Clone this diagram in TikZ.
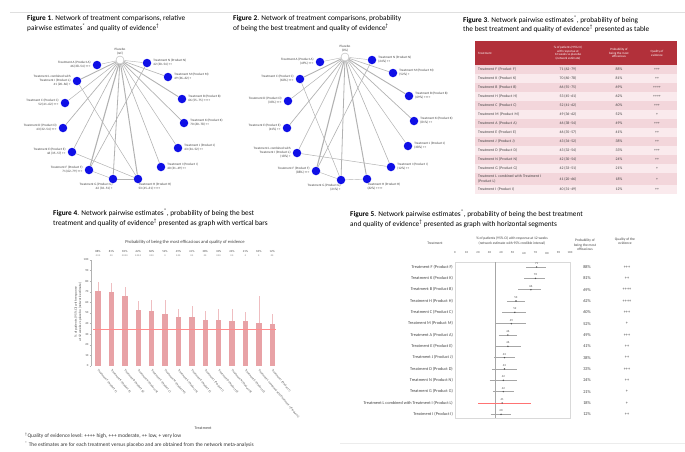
\documentclass[tikz,border=0pt]{standalone}
\usepackage{fontspec}
\setmainfont{Carlito}
\usetikzlibrary{positioning}
\definecolor{netblue}{RGB}{15, 15, 230}
\definecolor{edgegray}{RGB}{178, 178, 178}
\definecolor{headred}{RGB}{178, 48, 58}
\definecolor{rowpink}{RGB}{243, 214, 219}
\definecolor{rowlight}{RGB}{250, 234, 237}
\definecolor{barpink}{RGB}{232, 162, 166}
% rank/name/estimate/lower/upper/probability/quality
\newcommand{\rankrows}{1/Treatment F (Product F)/71/62/79/88/+++,
  2/Treatment K (Product K)/70/60/78/81/++,
  3/Treatment B (Product B)/66/55/75/69/++++,
  4/Treatment H (Product H)/53/45/61/62/++++,
  5/Treatment C (Product C)/52/41/62/60/+++,
  6/Treatment M (Product M)/49/36/62/52/+,
  7/Treatment A (Product A)/46/38/54/49/+++,
  8/Treatment E (Product E)/46/35/57/41/++,
  9/Treatment J (Product J)/43/34/52/38/++,
  10/Treatment D (Product D)/43/32/54/33/+++,
  11/Treatment N (Product N)/42/30/54/24/++,
  12/Treatment G (Product G)/42/33/51/21/+,
  13/Treatment L combined with Treatment I (Product L)/41/20/66/18/+,
  14/Treatment I (Product I)/40/31/49/12/++}

\begin{document}
\begin{tikzpicture}[x=1pt, y=-1pt,
  ttl/.style={anchor=north west, align=left, inner sep=0pt, font=\fontsize{7.3}{9.6}\selectfont},
  trt/.style={circle, fill=netblue, minimum size=8.5pt, inner sep=0pt},
  plc/.style={circle, draw=gray!60, fill=white, minimum size=8pt, inner sep=0pt},
  lab/.style={inner sep=0.3pt, text=black!75, font=\fontsize{3.3}{4}\selectfont},
  ll/.style={lab, align=right, left=1.5pt of #1},
  lr/.style={lab, align=left, right=1.5pt of #1},
  edge/.style={draw=edgegray},
  cell/.style={inner sep=0pt, text=black!75, font=\fontsize{3.8}{4.4}\selectfont},
  hcell/.style={inner sep=0pt, text=white, align=center, font=\fontsize{3.2}{3.8}\selectfont},
  tiny/.style={inner sep=0pt, text=black!70, font=\fontsize{3}{3.6}\selectfont},
  rcell/.style={inner sep=0pt, text=black!75, font=\fontsize{4.3}{5}\selectfont},
  rot/.style={inner sep=0pt, anchor=west, rotate=-50, text=black!70, font=\fontsize{3}{3.5}\selectfont}
]
\useasboundingbox (0,0) rectangle (685,451);
\draw[gray!25, line width=0.4pt] (10,12) -- (685,12);
\draw[gray!15, line width=0.4pt] (340,443) -- (685,443);

% titles
\node[ttl] (t1) at (27,15.5) {\textbf{Figure 1}. Network of treatment comparisons, relative\\pairwise estimates\textsuperscript{*} and  quality of evidence\textsuperscript{\dag}};
\node[ttl] (t2) at (233,15.5) {\textbf{Figure 2}. Network of treatment comparisons, probability\\of being the best treatment and quality of evidence\textsuperscript{\dag}};
\node[ttl] (t3) at (463,15.5) {\textbf{Figure 3}. Network pairwise estimates\textsuperscript{*}, probability of being\\the best treatment and quality of evidence\textsuperscript{\dag}  presented as table};
\node[ttl] (t4) at (53,209) {\textbf{Figure 4}. Network pairwise estimates\textsuperscript{*}, probability of being the best\\treatment and quality of evidence\textsuperscript{\dag}  presented as graph with vertical bars};
\node[ttl] (t5) at (350,210) {\textbf{Figure 5}. Network pairwise estimates\textsuperscript{*}, probability of being the best treatment\\and quality of evidence\textsuperscript{\dag}  presented as graph with horizontal segments};

% Figure 1: network with pairwise estimates
\node[plc] (p1) at (120,60) {};
\node[lab, align=center, above=0.5pt of p1] (p1l) {Placebo\\(ref.)};
\foreach \n/\x/\y in {1/97/65, 2/77/81, 3/65/103, 4/63/128, 5/72/152, 6/89/170, 7/113/179,
  8/138/179, 9/161/167, 10/178/148, 11/184/123, 12/182/99, 13/168/77, 14/147/63}
  \node[trt] (a\n) at (\x,\y) {};
\foreach \n/\w in {1/0.4, 2/0.9, 3/0.5, 4/0.7, 5/0.6, 6/1.1, 7/0.8, 8/1.0, 9/0.6, 10/0.5,
  11/0.7, 12/0.9, 13/0.6, 14/0.4}
  \draw[edge, line width=\w pt] (p1) -- (a\n);
\draw[edge, line width=0.5pt] (a2) -- (a8);
\draw[edge, line width=0.5pt] (a5) -- (a8);
\draw[edge, line width=0.6pt] (a6) -- (a14);
\draw[edge, line width=0.4pt] (a6) -- (a7);
\draw[edge, line width=0.4pt] (a7) -- (a8);
\node[ll=a1] (la1) {Treatment A (Product A)\\46 (38--54) +++};
\node[ll=a2] (la2) {Treatment L combined with\\Treatment I (Product L)\\41 (20--66) +};
\node[ll=a3] (la3) {Treatment C (Product C)\\52 (41--62) +++};
\node[ll=a4] (la4) {Treatment D (Product D)\\43 (32--54) +++};
\node[ll=a5] (la5) {Treatment E (Product E)\\46 (35--57) ++};
\node[ll=a6] (la6) {Treatment F (Product F)\\71 (62--79) +++};
\node[lab, align=right, anchor=north east] (la7) at ([yshift=1pt]a7.south) {Treatment G (Product G)\\42 (33--51) +};
\node[lab, align=left, anchor=north west] (la8) at ([yshift=1pt]a8.south) {Treatment H (Product H)\\53 (45--61) ++++};
\node[lr=a9] (la9) {Treatment I (Product I)\\40 (31--49) ++};
\node[lr=a10] (la10) {Treatment J (Product J)\\43 (34--52) ++};
\node[lr=a11] (la11) {Treatment K (Product K)\\70 (60--78) ++};
\node[lr=a12] (la12) {Treatment B (Product B)\\66 (55--75) ++++};
\node[lr=a13] (la13) {Treatment M (Product M)\\49 (36--62) +};
\node[lr=a14] (la14) {Treatment N (Product N)\\42 (30--54) ++};

% Figure 2: network with probability of being best
\node[plc] (p2) at (345,57) {};
\node[lab, align=center, above=0.5pt of p2] (p2l) {Placebo\\(0\%)};
\foreach \n/\x/\y in {1/320/62, 2/300/79, 3/288/101, 4/287/128, 5/297/153, 6/316/171, 7/341/180,
  8/367/179, 9/391/167, 10/408/146, 11/414/121, 12/409/96, 13/393/73, 14/372/60}
  \node[trt] (b\n) at (\x,\y) {};
\foreach \n/\w in {1/0.4, 2/0.9, 3/0.5, 4/0.7, 5/0.6, 6/1.1, 7/0.8, 8/1.0, 9/0.6, 10/0.5,
  11/0.7, 12/0.9, 13/0.6, 14/0.4}
  \draw[edge, line width=\w pt] (p2) -- (b\n);
\draw[edge, line width=0.5pt] (b2) -- (b7);
\draw[edge, line width=0.5pt] (b5) -- (b9);
\draw[edge, line width=0.6pt] (b6) -- (b14);
\draw[edge, line width=0.4pt] (b6) -- (b7);
\draw[edge, line width=0.4pt] (b7) -- (b8);
\node[ll=b1] (lb1) {Treatment A (Product A)\\(49\%) +++};
\node[ll=b2] (lb2) {Treatment C (Product C)\\(60\%) +++};
\node[ll=b3] (lb3) {Treatment D (Product D)\\(33\%) +++};
\node[ll=b4] (lb4) {Treatment E (Product E)\\(41\%) ++};
\node[ll=b5] (lb5) {Treatment L combined with\\Treatment I (Product L)\\(18\%) +};
\node[ll=b6] (lb6) {Treatment F (Product F)\\(88\%) +++};
\node[lab, align=right, anchor=north east] (lb7) at ([yshift=1pt]b7.south) {Treatment G (Product G)\\(21\%) +};
\node[lab, align=left, anchor=north west] (lb8) at ([yshift=1pt]b8.south) {Treatment H (Product H)\\(62\%) ++++};
\node[lr=b9] (lb9) {Treatment I (Product I)\\(12\%) ++};
\node[lr=b10] (lb10) {Treatment J (Product J)\\(38\%) ++};
\node[lr=b11] (lb11) {Treatment K (Product K)\\(81\%) ++};
\node[lr=b12] (lb12) {Treatment B (Product B)\\(69\%) ++++};
\node[lr=b13] (lb13) {Treatment M (Product M)\\(52\%) +};
\node[lr=b14] (lb14) {Treatment N (Product N)\\(24\%) ++};

% Figure 3: table
\fill[headred] (475,41) rectangle (677,65);
\node[hcell, anchor=west] (h1) at (478,53) {Treatment};
\node[hcell] (h2) at (568,53) {\% of patients (95\% CI)\\with response at\\12 weeks vs placebo\\(network estimate)};
\node[hcell] (h3) at (619,53) {Probability of\\being the most\\efficacious};
\node[hcell] (h4) at (657,53) {Quality of\\evidence};
\foreach \i/\nm/\v/\lo/\hi/\pr/\q in \rankrows {
  \pgfmathsetmacro\yt{\i<13 ? 65+9*(\i-1) : (\i==13 ? 173 : 185)}
  \pgfmathsetmacro\hh{\i==13 ? 12 : 9}
  \ifodd\i \def\rc{rowpink}\else \def\rc{rowlight}\fi
  \fill[\rc] (475,\yt) rectangle (677,{\yt+\hh});
  \node[cell, anchor=west, text width=64pt, align=left] (tn\i) at (478,{\yt+\hh/2}) {\nm};
  \node[cell] (te\i) at (568,{\yt+\hh/2}) {\v{} (\lo--\hi)};
  \node[cell] (tp\i) at (619,{\yt+\hh/2}) {\pr\%};
  \node[cell] (tq\i) at (657,{\yt+\hh/2}) {\q};
}

% Figure 4: vertical bars
\node[font=\fontsize{4.6}{5.5}\selectfont, text=black!75] (c4) at (185,242) {Probability of being the most efficacious and quality of evidence};
\draw[gray!60, line width=0.3pt] (91,260) -- (91,366);
\foreach \t in {0,10,...,100} {
  \draw[gray!60, line width=0.3pt] (89.5,{366-1.06*\t}) -- (91,{366-1.06*\t});
  \node[tiny, anchor=east] at (88.5,{366-1.06*\t}) {\t};
}
\node[tiny, rotate=90, align=center, font=\fontsize{3.4}{4.2}\selectfont] (ya) at (78,312) {\% of patients (95\% CI) with response\\at 12 weeks vs placebo (network estimate)};
\foreach \i/\nm/\v/\lo/\hi/\pr/\q in \rankrows {
  \pgfmathsetmacro\bx{98+13.4*(\i-1)}
  \fill[barpink] ({\bx-2.7},366) rectangle ({\bx+2.7},{366-1.06*\v});
  \draw[barpink!70, line width=0.3pt] (\bx,{366-1.06*\v}) -- (\bx,{366-1.06*\hi});
  \node[rot] (bl\i) at (\bx,370) {\nm};
  \node[tiny] (bp\i) at (\bx,251) {\pr\%};
  \node[tiny] (bq\i) at (\bx,256) {\q};
}
\draw[red!45, line width=0.4pt] (93,{366-1.06*35}) -- (276,{366-1.06*35});
\node[font=\fontsize{4}{5}\selectfont, text=black!75] (xa) at (203,428) {Treatment};

% footnotes
\node[anchor=west, inner sep=0pt, font=\fontsize{5.4}{6.5}\selectfont, text=black!80] (fn1) at (25,436) {\textsuperscript{\dag}Quality of evidence level: ++++ high, +++ moderate, ++ low, + very low};
\node[anchor=west, inner sep=0pt, font=\fontsize{5.4}{6.5}\selectfont, text=black!80] (fn2) at (25,445) {\textsuperscript{*} The estimates are for each treatment versus placebo and are obtained from the network meta-analysis};

% Figure 5: horizontal segments
\node[rcell, font=\fontsize{3.6}{4.3}\selectfont] (g1) at (435,243) {Treatment};
\node[rcell, align=center, font=\fontsize{3.6}{4.3}\selectfont] (g2) at (512,241) {\% of patients (95\% CI) with response at 12 weeks\\(network estimate with 95\% credible interval)};
\node[rcell, align=center, font=\fontsize{3.6}{4.3}\selectfont] (g3) at (585,245) {Probability of\\being the most\\efficacious};
\node[rcell, align=center, font=\fontsize{3.6}{4.3}\selectfont] (g4) at (625,241) {Quality of the\\evidence};
\foreach \t in {0,10,...,100}
  \node[tiny] at ({455+1.15*\t},253) {\t};
\draw[gray!30, line width=0.3pt] (455,262) rectangle (570,418);
\draw[gray!70, line width=0.4pt] ({455+1.15*35},262) -- ({455+1.15*35},418);
\foreach \i/\nm/\v/\lo/\hi/\pr/\q in \rankrows {
  \pgfmathsetmacro\ry{267+11.33*(\i-1)}
  \ifnum\i=13 \def\sc{red!55}\else \def\sc{gray!70}\fi
  \node[rcell, anchor=east] (fn\i) at (453,\ry) {\nm};
  \draw[\sc, line width=0.35pt] ({455+1.15*\lo},\ry) -- ({455+1.15*\hi},\ry);
  \fill[black!70] ({455+1.15*\v},\ry) circle (0.8);
  \node[tiny] (fv\i) at ({455+1.15*\v},{\ry-3.5}) {\v};
  \node[rcell] (fp\i) at (587,\ry) {\pr\%};
  \node[rcell] (fq\i) at (627,\ry) {\q};
}
\end{tikzpicture}
\end{document}
